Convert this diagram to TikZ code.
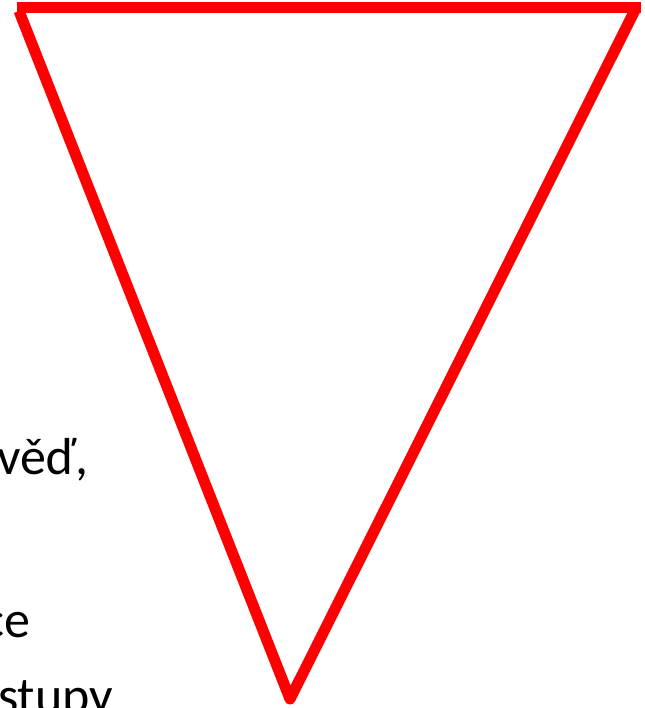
\documentclass[tikz,border=0pt]{standalone}
\usepackage{fontspec}
\setmainfont{Carlito}
\tikzset{
  redline/.style={draw=red, line width=11pt},
  txt/.style={anchor=base west, inner sep=0pt, font=\fontsize{52}{62}\selectfont, text=black}
}
\begin{document}
\begin{tikzpicture}[x=1pt,y=-1pt]
\useasboundingbox (0,0) rectangle (644,708);
\clip (0,0) rectangle (644,708);
\node[txt] (t1) at (-3,474) {věď,};
\node[txt] (t2) at (-18,637) {ce};
\node[txt] (t3) at (-2,713) {stupy};
\coordinate (tl) at (17,8);
\coordinate (tr) at (641,8);
\coordinate (a) at (19,11);
\coordinate (b) at (290,699);
\coordinate (c) at (635,10);
\draw[redline] (tl) -- (tr);
\draw[redline, line join=round] (a) -- (b) -- (c);
\end{tikzpicture}
\end{document}
